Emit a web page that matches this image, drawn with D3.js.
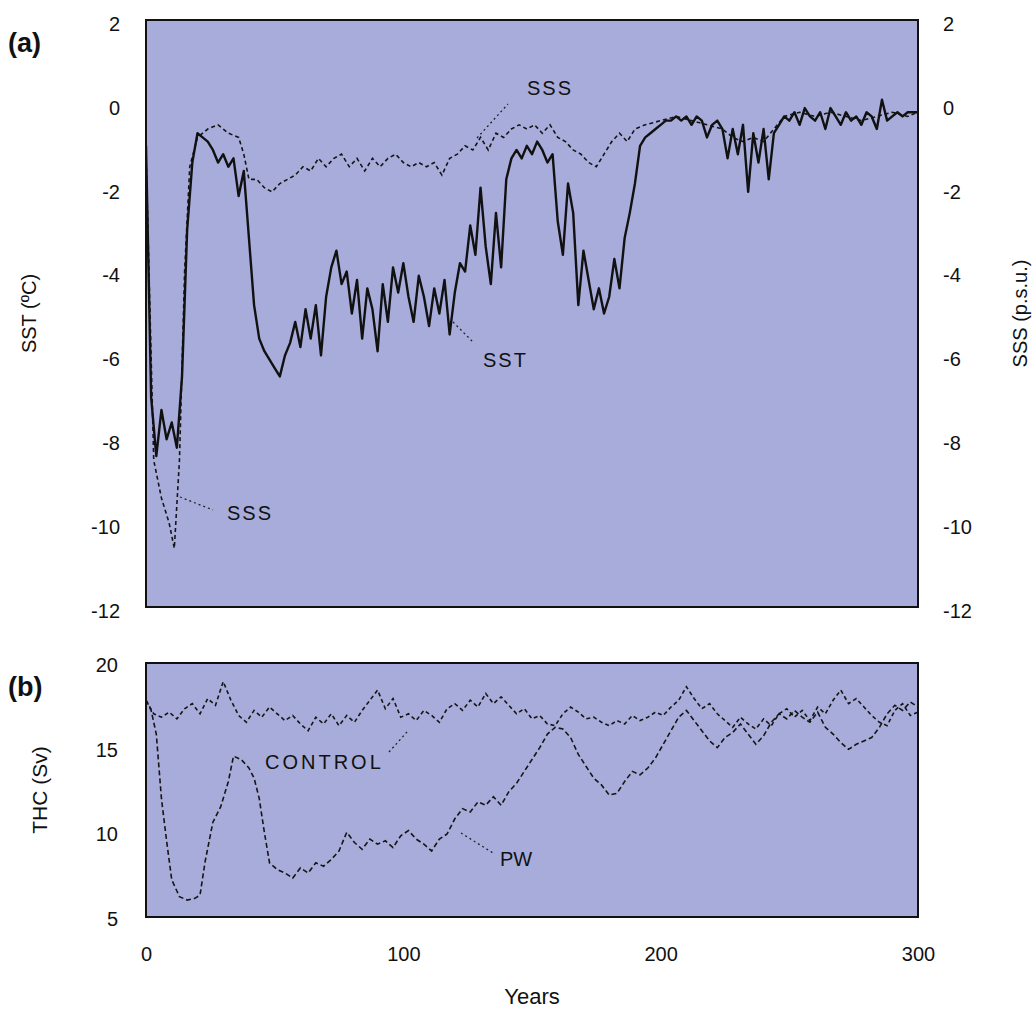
<!DOCTYPE html>
<html>
<head>
<meta charset="utf-8">
<script src="https://cdn.jsdelivr.net/npm/d3@7"></script>
<style>
  body { margin: 0; background: #fff; }
  text { font-family: "Liberation Sans", Arial, sans-serif; fill: #111; }
</style>
</head>
<body>
<div class="chart"></div>
<script>
const width = 1036
const height = 1011

// panel (a): SST sampled every 2 years from year 0
const sstStep = 2
const sstValues = [
  -1.0, -7.0, -8.4, -7.3, -8.0, -7.6, -8.2, -6.5, -3.0, -1.4,
  -0.7, -0.8, -0.9, -1.1, -1.4, -1.2, -1.5, -1.3, -2.2, -1.6,
  -3.2, -4.8, -5.6, -5.9, -6.1, -6.3, -6.5, -6.0, -5.7, -5.2,
  -5.8, -4.9, -5.6, -4.8, -6.0, -4.6, -3.9, -3.5, -4.3, -4.0,
  -5.0, -4.2, -5.6, -4.4, -4.9, -5.9, -4.3, -5.2, -3.9, -4.5,
  -3.8, -4.6, -5.2, -4.1, -4.6, -5.3, -4.4, -5.0, -4.2, -5.5,
  -4.5, -3.8, -4.0, -2.9, -3.6, -2.0, -3.4, -4.3, -2.6, -3.9,
  -1.8, -1.3, -1.1, -1.3, -1.0, -1.2, -0.9, -1.1, -1.4, -1.2,
  -2.8, -3.6, -1.9, -2.6, -4.8, -3.5, -4.2, -4.9, -4.4, -5.0,
  -4.6, -3.7, -4.4, -3.2, -2.6, -1.9, -1.0, -0.8, -0.7, -0.6,
  -0.5, -0.4, -0.4, -0.3, -0.4, -0.3, -0.5, -0.3, -0.4, -0.8,
  -0.5, -0.4, -0.6, -1.3, -0.6, -1.2, -0.5, -2.1, -0.7, -1.4,
  -0.6, -1.8, -0.7, -0.5, -0.3, -0.4, -0.2, -0.5, -0.1, -0.3,
  -0.4, -0.2, -0.6, -0.1, -0.3, -0.5, -0.2, -0.4, -0.3, -0.5,
  -0.2, -0.3, -0.6, 0.1, -0.4, -0.3, -0.2, -0.3, -0.2, -0.2,
  -0.2
]

const sssYears = [
  0, 3, 6, 9, 11, 13, 15, 17, 20, 24, 28, 32, 36, 38, 40, 43, 46, 49, 52, 55,
  58, 61, 64, 67, 70, 73, 76, 79, 82, 85, 88, 91, 94, 97, 100, 103, 106, 109, 112, 115,
  118, 121, 124, 127, 130, 133, 136, 139, 142, 145, 148, 151, 154, 157, 160, 163, 166, 169, 172, 175,
  178, 181, 184, 187, 190, 194, 200, 206, 212, 218, 224, 228, 232, 236, 240, 244, 248, 254, 260, 266,
  272, 278, 284, 290, 296, 300
]
const sssValues = [
  -1.2, -8.5, -9.4, -10.0, -10.6, -8.5, -4.0, -1.5, -0.8, -0.6, -0.5, -0.7, -0.8, -1.2, -1.8, -1.8, -2.0, -2.1, -1.9, -1.8,
  -1.7, -1.5, -1.6, -1.3, -1.5, -1.3, -1.2, -1.5, -1.3, -1.6, -1.3, -1.5, -1.3, -1.2, -1.4, -1.5, -1.4, -1.5, -1.4, -1.7,
  -1.3, -1.2, -1.0, -1.1, -0.8, -1.1, -0.7, -0.8, -0.6, -0.5, -0.6, -0.5, -0.7, -0.5, -0.8, -0.9, -1.1, -1.2, -1.4, -1.5,
  -1.2, -0.9, -0.7, -0.9, -0.6, -0.5, -0.4, -0.3, -0.4, -0.5, -0.6, -0.8, -0.9, -0.8, -0.9, -0.6, -0.3, -0.2, -0.3, -0.2,
  -0.3, -0.4, -0.3, -0.2, -0.3, -0.2
]

// panel (b): THC
const controlYears = [
  0, 3, 6, 9, 12, 15, 18, 21, 24, 27, 30, 33, 36, 39, 42, 45, 48, 51, 54, 57,
  60, 63, 66, 69, 72, 75, 78, 81, 84, 87, 90, 93, 96, 99, 102, 105, 108, 111, 114, 117,
  120, 123, 126, 129, 132, 135, 138, 141, 144, 147, 150, 153, 156, 159, 162, 165, 168, 171, 174, 177,
  180, 183, 186, 189, 192, 195, 198, 201, 204, 207, 210, 213, 216, 219, 222, 225, 228, 231, 234, 237,
  240, 243, 246, 249, 252, 255, 258, 261, 264, 267, 270, 273, 276, 279, 282, 285, 288, 291, 294, 297,
  300
]
const controlValues = [
  17.8, 17.0, 16.8, 17.1, 16.7, 17.3, 17.6, 17.0, 17.9, 17.5, 18.9, 17.8, 16.9, 16.5, 17.2, 16.8, 17.4, 17.0, 16.6, 16.9,
  16.4, 16.0, 16.8, 16.4, 17.0, 16.3, 16.9, 16.5, 17.2, 17.8, 18.4, 17.3, 17.9, 16.8, 17.0, 16.6, 17.2, 16.9, 16.5, 17.3,
  17.6, 17.2, 17.8, 17.4, 18.2, 17.6, 18.0, 17.5, 17.0, 17.3, 16.7, 16.9, 16.4, 16.3, 17.0, 17.4, 17.1, 16.7, 16.8, 16.5,
  16.3, 16.6, 16.4, 16.9, 16.6, 16.8, 17.1, 16.9, 17.4, 17.8, 18.6, 17.9, 17.3, 17.6, 17.0, 16.6, 16.2, 16.8, 16.4, 16.1,
  16.7, 16.3, 17.0, 17.3, 16.8, 17.2, 16.6, 17.4, 17.0, 17.8, 18.4, 17.6, 17.9, 17.4, 16.9, 16.5, 16.3, 17.2, 17.6, 16.9,
  17.1
]

const pwYears = [
  0, 2, 4, 6, 8, 10, 13, 16, 19, 21, 23, 26, 29, 32, 34, 37, 40, 42, 44, 46,
  48, 51, 54, 57, 60, 63, 66, 69, 72, 75, 78, 81, 84, 87, 90, 93, 96, 99, 102, 105,
  108, 111, 114, 117, 120, 123, 126, 129, 132, 135, 138, 141, 144, 147, 150, 153, 156, 159, 162, 165,
  168, 171, 174, 177, 180, 183, 186, 189, 192, 195, 198, 201, 204, 207, 210, 213, 216, 219, 222, 225,
  228, 231, 234, 237, 240, 243, 246, 249, 252, 255, 258, 261, 264, 267, 270, 273, 276, 279, 282, 285,
  288, 291, 294, 297, 300
]
const pwValues = [
  17.8, 17.2, 15.8, 12.0, 9.5, 7.2, 6.2, 6.0, 6.1, 6.3, 8.3, 10.6, 11.5, 13.0, 14.5, 14.3, 13.8, 13.2, 12.0, 10.0,
  8.2, 7.8, 7.6, 7.3, 7.9, 7.6, 8.2, 8.0, 8.4, 8.9, 10.0, 9.4, 9.0, 9.6, 9.3, 9.5, 9.1, 9.8, 10.1, 9.6,
  9.3, 8.9, 9.6, 9.9, 10.8, 11.4, 11.2, 11.8, 11.6, 12.1, 11.6, 12.4, 12.9, 13.6, 14.3, 15.0, 15.8, 16.2, 16.1, 15.6,
  14.6, 13.9, 13.2, 12.8, 12.2, 12.3, 13.0, 13.6, 13.4, 13.8, 14.4, 15.2, 16.0, 16.8, 17.2, 16.6, 16.0, 15.4, 15.0, 15.6,
  15.9, 16.4, 15.8, 15.2, 15.7, 16.5, 17.0, 16.7, 17.2, 16.8, 16.5, 17.1, 16.2, 15.8, 15.3, 14.9, 15.2, 15.4, 15.6, 16.2,
  17.0, 17.5, 17.2, 17.7, 17.4
]

const yearTicks = [0, 100, 200, 300]
const tempTicks = [2, 0, -2, -4, -6, -8, -10, -12]
const thcTicks = [20, 15, 10, 5]

const svg = d3.create("svg")
  .attr("width", width)
  .attr("height", height)

const x = d3.scaleLinear().domain([0, 300]).range([146, 918])
const yA = d3.scaleLinear().domain([-12, 2]).range([607, 20])
const yB = d3.scaleLinear().domain([5, 20]).range([917, 663])

const bg = "rgb(168, 172, 218)"

// clip regions for both panels
const defs = svg.append("defs")
defs.append("clipPath").attr("id", "clipA").append("rect")
  .attr("x", x(0)).attr("y", yA(2)).attr("width", x(300) - x(0)).attr("height", yA(-12) - yA(2))
defs.append("clipPath").attr("id", "clipB").append("rect")
  .attr("x", x(0)).attr("y", yB(20)).attr("width", x(300) - x(0)).attr("height", yB(5) - yB(20))

svg.append("rect")
  .attr("x", x(0)).attr("y", yA(2))
  .attr("width", x(300) - x(0)).attr("height", yA(-12) - yA(2))
  .attr("fill", bg)

svg.append("rect")
  .attr("x", x(0)).attr("y", yB(20))
  .attr("width", x(300) - x(0)).attr("height", yB(5) - yB(20))
  .attr("fill", bg)

// series
const sst = sstValues.map((v, i) => ({t: i * sstStep, v: v}))
const sss = sssYears.map((t, i) => ({t: t, v: sssValues[i]}))
const control = controlYears.map((t, i) => ({t: t, v: controlValues[i]}))
const pw = pwYears.map((t, i) => ({t: t, v: pwValues[i]}))

const lineA = d3.line().x(d => x(d.t)).y(d => yA(d.v))
const lineB = d3.line().x(d => x(d.t)).y(d => yB(d.v))

const gA = svg.append("g").attr("clip-path", "url(#clipA)")
gA.append("path")
  .datum(sss)
  .attr("d", lineA)
  .attr("fill", "none")
  .attr("stroke", "#151515")
  .attr("stroke-width", 1.6)
  .attr("stroke-dasharray", "4,3")

gA.append("path")
  .datum(sst)
  .attr("d", lineA)
  .attr("fill", "none")
  .attr("stroke", "#111")
  .attr("stroke-width", 2.4)
  .attr("stroke-linejoin", "round")

const gB = svg.append("g").attr("clip-path", "url(#clipB)")
gB.append("path")
  .datum(control)
  .attr("d", lineB)
  .attr("fill", "none")
  .attr("stroke", "#151515")
  .attr("stroke-width", 1.6)
  .attr("stroke-dasharray", "4,3")

gB.append("path")
  .datum(pw)
  .attr("d", lineB)
  .attr("fill", "none")
  .attr("stroke", "#151515")
  .attr("stroke-width", 1.6)
  .attr("stroke-dasharray", "5,3")

// frames
svg.append("rect")
  .attr("x", x(0)).attr("y", yA(2))
  .attr("width", x(300) - x(0)).attr("height", yA(-12) - yA(2))
  .attr("fill", "none").attr("stroke", "#111").attr("stroke-width", 2)

svg.append("rect")
  .attr("x", x(0)).attr("y", yB(20))
  .attr("width", x(300) - x(0)).attr("height", yB(5) - yB(20))
  .attr("fill", "none").attr("stroke", "#111").attr("stroke-width", 2)

// axes (labels only, no tick lines), plain hyphen for negatives
const plain = d => String(d)

function styleAxis(g) {
  g.select(".domain").remove()
  g.selectAll("line").remove()
  g.selectAll("text")
    .style("font-family", "'Liberation Sans', Arial, sans-serif")
    .style("font-size", "20px")
    .attr("fill", "#111")
}

svg.append("g")
  .attr("transform", `translate(${x(0) - 26}, 4)`)
  .call(d3.axisLeft(yA).tickValues(tempTicks).tickSize(0).tickPadding(0).tickFormat(plain))
  .call(styleAxis)

svg.append("g")
  .attr("transform", `translate(${x(300) + 25}, 4)`)
  .call(d3.axisRight(yA).tickValues(tempTicks).tickSize(0).tickPadding(0).tickFormat(plain))
  .call(styleAxis)

svg.append("g")
  .attr("transform", `translate(${x(0) - 28}, 2)`)
  .call(d3.axisLeft(yB).tickValues(thcTicks).tickSize(0).tickPadding(0).tickFormat(plain))
  .call(styleAxis)

svg.append("g")
  .attr("transform", `translate(0, ${yB(5) + 30})`)
  .call(d3.axisBottom(x).tickValues(yearTicks).tickSize(0).tickPadding(0).tickFormat(plain))
  .call(styleAxis)

// axis titles
svg.append("text")
  .attr("transform", `translate(36, ${(yA(2) + yA(-12)) / 2}) rotate(-90)`)
  .attr("text-anchor", "middle")
  .style("font-size", "20px")
  .text("SST (ºC)")

svg.append("text")
  .attr("transform", `translate(1027, ${(yA(2) + yA(-12)) / 2}) rotate(-90)`)
  .attr("text-anchor", "middle")
  .style("font-size", "20px")
  .text("SSS (p.s.u.)")

svg.append("text")
  .attr("transform", `translate(47, ${(yB(20) + yB(5)) / 2}) rotate(-90)`)
  .attr("text-anchor", "middle")
  .style("font-size", "21px")
  .text("THC (Sv)")

svg.append("text")
  .attr("x", (x(0) + x(300)) / 2)
  .attr("y", 1004)
  .attr("text-anchor", "middle")
  .style("font-size", "22px")
  .text("Years")

// panel letters
svg.append("text").attr("x", 8).attr("y", 52)
  .style("font", "bold 27px 'Liberation Sans', Arial, sans-serif").text("(a)")
svg.append("text").attr("x", 8).attr("y", 696)
  .style("font", "bold 27px 'Liberation Sans', Arial, sans-serif").text("(b)")

// annotations with dotted leaders
const notes = [
  {label: "SSS", tx: 527, ty: 95, x1: 477, y1: 138, x2: 508, y2: 104},
  {label: "SST", tx: 483, ty: 367, x1: 453, y1: 322, x2: 474, y2: 343},
  {label: "SSS", tx: 227, ty: 520, x1: 180, y1: 497, x2: 213, y2: 510},
  {label: "CONTROL", tx: 265, ty: 769, x1: 389, y1: 752, x2: 407, y2: 732},
  {label: "PW", tx: 500, ty: 866, x1: 461, y1: 833, x2: 493, y2: 853}
]

const noteG = svg.append("g")
noteG.selectAll("line")
  .data(notes)
  .join("line")
  .attr("x1", d => d.x1).attr("y1", d => d.y1)
  .attr("x2", d => d.x2).attr("y2", d => d.y2)
  .attr("stroke", "#222")
  .attr("stroke-width", 1.3)
  .attr("stroke-dasharray", "2,3")

noteG.selectAll("text")
  .data(notes)
  .join("text")
  .attr("x", d => d.tx).attr("y", d => d.ty)
  .style("font-size", "20px")
  .style("letter-spacing", d => d.label == "PW" ? "0px" : d.label == "CONTROL" ? "3px" : "2px")
  .text(d => d.label)

document.querySelector(".chart").append(svg.node())
</script>
</body>
</html>
